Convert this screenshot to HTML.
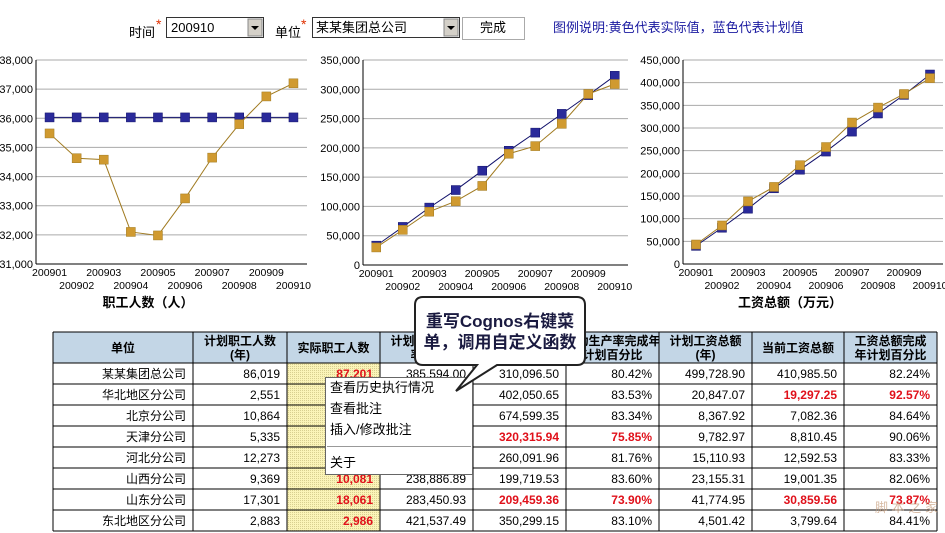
<!DOCTYPE html>
<html><head><meta charset="utf-8">
<style>
body{margin:0;background:#fff;width:945px;height:533px;overflow:hidden;font-family:"Liberation Sans","Noto Sans CJK SC",sans-serif;}
svg{position:absolute;left:0;top:0}
</style></head><body>
<svg id="s" width="945" height="533" xmlns="http://www.w3.org/2000/svg" font-family="Liberation Sans, Noto Sans CJK SC, sans-serif">
<defs>
<pattern id="dot" width="2" height="2" patternUnits="userSpaceOnUse"><rect width="2" height="2" fill="#fbf4b8"/><rect width="1" height="1" fill="#d8cf90"/></pattern>
</defs>
<text x="129" y="37" font-size="13">时间</text>
<text x="156" y="29" font-size="14" fill="#e03000">*</text>
<rect x="166.5" y="17.5" width="97" height="20" fill="#fff" stroke="#333"/>
<text x="171" y="32" font-size="13">200910</text>
<rect x="248" y="19" width="14" height="17" fill="#d4d0c8" stroke="#888"/>
<path d="M251 26 l4 4 l4 -4z" fill="#000"/>
<text x="275" y="37" font-size="13">单位</text>
<text x="301" y="29" font-size="14" fill="#e03000">*</text>
<rect x="312.5" y="17.5" width="147" height="20" fill="#fff" stroke="#333"/>
<text x="316" y="32" font-size="13">某某集团总公司</text>
<rect x="444" y="19" width="14" height="17" fill="#d4d0c8" stroke="#888"/>
<path d="M447 26 l4 4 l4 -4z" fill="#000"/>
<rect x="462.5" y="17.5" width="62" height="22" fill="#fff" stroke="#aaa"/>
<text x="493" y="32" font-size="13" text-anchor="middle">完成</text>
<text x="553" y="32" font-size="13" fill="#1a1aa0">图例说明:黄色代表实际值，蓝色代表计划值</text>
<g id="charts"></g>
<g id="table"></g>
<rect x="325.5" y="377.5" width="147" height="97" fill="#fff" stroke="#666"/>
<text x="330" y="392" font-size="13">查看历史执行情况</text>
<text x="330" y="413" font-size="13">查看批注</text>
<text x="330" y="434" font-size="13">插入/修改批注</text>
<line x1="327" y1="446.5" x2="471" y2="446.5" stroke="#999"/>
<text x="330" y="467" font-size="13">关于</text>
<path d="M423 297 H577 Q585 297 585 305 V357 Q585 365 577 365 H497 L456 391 L477 365 H423 Q415 365 415 357 V305 Q415 297 423 297Z" fill="#fff" stroke="#222" stroke-width="2"/>
<text x="500" y="327" font-size="17" font-weight="bold" fill="#1a1a40" text-anchor="middle">重写Cognos右键菜</text>
<text x="500" y="348" font-size="17" font-weight="bold" fill="#1a1a40" text-anchor="middle">单，调用自定义函数</text>
<text x="875" y="512" font-size="13" fill="#c8a080" opacity="0.7">脚 本 之 家</text>
</svg>
<script>
const NS="http://www.w3.org/2000/svg";
function el(p,t,a,txt){const e=document.createElementNS(NS,t);for(const k in a)e.setAttribute(k,a[k]);if(txt!==undefined)e.textContent=txt;p.appendChild(e);return e;}
const g=document.getElementById('charts');
const labels=['200901','200902','200903','200904','200905','200906','200907','200908','200909','200910'];
function chart(x0,x1,y0,y1,min,max,step,plan,act,title,tx,fmt){
  const n=(max-min)/step;
  for(let i=0;i<=n;i++){const y=y1-(y1-y0)*i/n;
    if(i>0)el(g,'line',{x1:x0,x2:x1,y1:y,y2:y,stroke:'#aaa'});
    el(g,'text',{x:x0-3,y:y+4,'font-size':11,'text-anchor':'end'},fmt(min+i*step));}
  el(g,'line',{x1:x0,x2:x0,y1:y0,y2:y1,stroke:'#000'});
  el(g,'line',{x1:x0,x2:x1,y1:y1,y2:y1,stroke:'#000'});
  const w=(x1-x0)/10;
  const X=i=>x0+w*(i+0.5), Y=v=>y1-(v-min)/(max-min)*(y1-y0);
  labels.forEach((l,i)=>el(g,'text',{x:X(i),y:i%2?y1+25:y1+12,'font-size':10.5,'text-anchor':'middle'},l));
  [[plan,'#2a2a9a','#10106a'],[act,'#d09a30','#a07a20']].forEach(([d,c,lc])=>{
    el(g,'polyline',{points:d.map((v,i)=>X(i)+','+Y(v)).join(' '),fill:'none',stroke:lc,'stroke-width':1});
    d.forEach((v,i)=>el(g,'rect',{x:X(i)-4.5,y:Y(v)-4.5,width:9,height:9,fill:c,stroke:lc,'stroke-width':0.5}));
  });
  el(g,'text',{x:tx,y:y1+43,'font-size':13,'font-weight':'bold','text-anchor':'middle'},title);
}
const f=v=>v.toLocaleString('en-US');
chart(36,307,60,264,31000,38000,1000,Array(10).fill(36030),[35480,34630,34580,32100,31980,33250,34650,35800,36750,37200],'职工人数（人）',148,f);
chart(363,628,60,265,0,350000,50000,[33000,65000,98000,128000,161000,195000,226000,258000,290000,323000],[30000,60000,91000,109000,135000,190000,203000,241000,292000,309000],'劳动生产率（万元/人）',495,f);
chart(683,943,60,264,0,450000,50000,[40000,80000,122000,167000,208000,248000,292000,332000,373000,418000],[43000,85000,138000,170000,218000,258000,312000,345000,375000,410000],'工资总额（万元）',790,f);
const t=document.getElementById('table');
const cx=[53,193,287,380,473,566,659,752,844,937];
const ry=[332,363,384,405,426,447,468,489,510,531];
const hdr=[['单位'],['计划职工人数','(年)'],['实际职工人数'],['计划劳动生产','率(年)'],['当前劳动生产率'],['劳动生产率完成年','计划百分比'],['计划工资总额','(年)'],['当前工资总额'],['工资总额完成','年计划百分比']];
for(let c=0;c<9;c++){
  el(t,'rect',{x:cx[c],y:332,width:cx[c+1]-cx[c],height:31,fill:'#c3d6e6'});
  const h=hdr[c],mx=(cx[c]+cx[c+1])/2;
  if(h.length==1)el(t,'text',{x:mx,y:352,'font-size':12,'font-weight':'bold','text-anchor':'middle'},h[0]);
  else{el(t,'text',{x:mx,y:345,'font-size':12,'font-weight':'bold','text-anchor':'middle'},h[0]);el(t,'text',{x:mx,y:359,'font-size':12,'font-weight':'bold','text-anchor':'middle'},h[1]);}
}
el(t,'rect',{x:287,y:363,width:93,height:168,fill:'url(#dot)'});
const rows=[
['某某集团总公司','86,019','*87,201','385,594.00','310,096.50','80.42%','499,728.90','410,985.50','82.24%'],
['华北地区分公司','2,551','','','402,050.65','83.53%','20,847.07','*19,297.25','*92.57%'],
['北京分公司','10,864','','','674,599.35','83.34%','8,367.92','7,082.36','84.64%'],
['天津分公司','5,335','','','*320,315.94','*75.85%','9,782.97','8,810.45','90.06%'],
['河北分公司','12,273','','','260,091.96','81.76%','15,110.93','12,592.53','83.33%'],
['山西分公司','9,369','*10,081','238,886.89','199,719.53','83.60%','23,155.31','19,001.35','82.06%'],
['山东分公司','17,301','*18,061','283,450.93','*209,459.36','*73.90%','41,774.95','*30,859.56','*73.87%'],
['东北地区分公司','2,883','*2,986','421,537.49','350,299.15','83.10%','4,501.42','3,799.64','84.41%']];
rows.forEach((r,i)=>r.forEach((v,c)=>{if(!v)return;const red=v[0]=='*';if(red)v=v.slice(1);
  el(t,'text',{x:cx[c+1]-7,y:ry[i+2]-6,'font-size':12,'text-anchor':'end',fill:red?'#e0101a':'#000','font-weight':red?'bold':'normal'},v);}));
cx.forEach(x=>el(t,'line',{x1:x,x2:x,y1:332,y2:531,stroke:'#000'}));
ry.forEach(y=>el(t,'line',{x1:53,x2:937,y1:y,y2:y,stroke:'#000'}));
</script>
</body></html>
